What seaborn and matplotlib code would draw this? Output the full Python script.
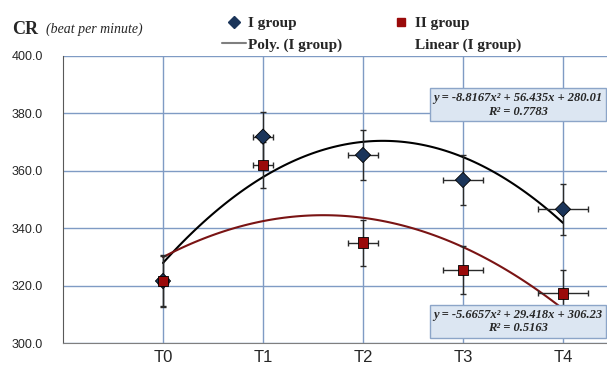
import numpy as np
import pandas as pd
import matplotlib.pyplot as plt
import seaborn as sns
from matplotlib.lines import Line2D

# ----------------------------------
# Data
# ----------------------------------

times = ["T0", "T1", "T2", "T3", "T4"]
pos = [1, 2, 3, 4, 5]

group1 = [321.6, 371.9, 365.5, 356.8, 346.6]
group1_err = [8.7, 8.7, 8.8, 8.7, 8.8]

group2 = [321.6, 362.0, 335.0, 325.4, 317.3]
group2_err = [9.0, 8.0, 8.0, 8.4, 8.1]

x_err = [0.05, 0.10, 0.15, 0.20, 0.25]

y_ticks = [300, 320, 340, 360, 380, 400]

eq1 = "y = -8.8167x² + 56.435x + 280.01\nR² = 0.7783"
eq2 = "y = -5.6657x² + 29.418x + 306.23\nR² = 0.5163"

df = pd.DataFrame({
    "pos": pos + pos,
    "cr": group1 + group2,
    "group": ["I group"] * 5 + ["II group"] * 5
})

# ----------------------------------
# Style
# ----------------------------------

sns.set_style("white")
plt.rcParams["font.family"] = ["Liberation Serif", "DejaVu Serif"]

navy = "#1B355A"
red = "#9A0A0A"
grid_col = "#7F9BC4"

fig = plt.figure(figsize=(6.07, 3.67), dpi=100)
ax = fig.add_axes([63 / 607, 1 - 343 / 367, 544 / 607, 287 / 367])

# ----------------------------------
# Trendlines (2nd order polynomial)
# ----------------------------------

sns.regplot(x=np.array(pos), y=np.array(group1), order=2, ci=None,
            scatter=False, truncate=True, color="black",
            line_kws=dict(lw=1.5, zorder=3), ax=ax)

sns.regplot(x=np.array(pos), y=np.array(group2), order=2, ci=None,
            scatter=False, truncate=True, color="#7A1414",
            line_kws=dict(lw=1.5, zorder=3), ax=ax)

# ----------------------------------
# Error bars + points
# ----------------------------------

ax.errorbar(pos, group1, yerr=group1_err, xerr=x_err, fmt="none",
            ecolor="#2A2A2A", elinewidth=1, capsize=2.5, zorder=4)
ax.errorbar(pos, group2, yerr=group2_err, xerr=x_err, fmt="none",
            ecolor="#2A2A2A", elinewidth=1, capsize=2.5, zorder=4)

sns.scatterplot(data=df, x="pos", y="cr", hue="group", style="group",
                markers={"I group": "D", "II group": "s"},
                palette={"I group": navy, "II group": red},
                s=60, edgecolor="black", linewidth=0.6,
                legend=False, zorder=5, ax=ax)

# ----------------------------------
# Axes
# ----------------------------------

ax.set_xlim(0, 5.44)
ax.set_ylim(300, 400)
ax.set_xticks(pos, times)
ax.set_yticks(y_ticks, [f"{v:.1f}" for v in y_ticks])
ax.set_xlabel("")
ax.set_ylabel("")

ax.grid(True, color=grid_col, lw=1)
ax.set_axisbelow(True)

for side in ["top", "right"]:
    ax.spines[side].set_visible(False)
ax.spines["left"].set_color("#595959")
ax.spines["bottom"].set_color("#7F7F7F")

ax.tick_params(axis="y", length=4, color="#595959", pad=10.5,
               labelsize=9)
ax.tick_params(axis="x", length=0, pad=5, labelsize=12)
for lab in ax.get_yticklabels():
    lab.set_family(["Liberation Sans", "DejaVu Sans"])
for lab in ax.get_xticklabels():
    lab.set_family(["Liberation Sans", "DejaVu Sans"])

# ----------------------------------
# Equation boxes
# ----------------------------------

box = dict(boxstyle="square,pad=0.3", fc="#DCE6F2", ec="#8CA5C8", lw=1)

ax.text(4.55, 383, eq1, ha="center", va="center", fontsize=9,
        weight="bold", style="italic", bbox=box, zorder=6, clip_on=False)
ax.text(4.55, 307.5, eq2, ha="center", va="center", fontsize=9,
        weight="bold", style="italic", bbox=box, zorder=6, clip_on=False)

# ----------------------------------
# Title + legend
# ----------------------------------

fig.text(12 / 607, 1 - 29 / 367, "CR", fontsize=13, weight="bold",
         va="center")
fig.text(46 / 607, 1 - 29 / 367, "(beat per minute)", fontsize=10,
         style="italic", va="center")

handles = [
    Line2D([], [], marker="D", color=navy, ls="none", markersize=6),
    Line2D([], [], color="#7F7F7F", lw=1.5),
    Line2D([], [], marker="s", color=red, ls="none", markersize=6),
    Line2D([], [], color="none"),
]
labels = ["I group", "Poly. (I group)", "II group", "Linear (I group)"]

fig.legend(handles, labels, ncol=2, frameon=False,
           loc="upper left", bbox_to_anchor=(214 / 607, 1 - 9 / 367),
           borderpad=0, handlelength=1.6, handletextpad=0.15,
           columnspacing=3.0, labelspacing=0.5,
           prop=dict(family="Liberation Serif", weight="bold", size=11))

fig.savefig("out.png", dpi=100)
